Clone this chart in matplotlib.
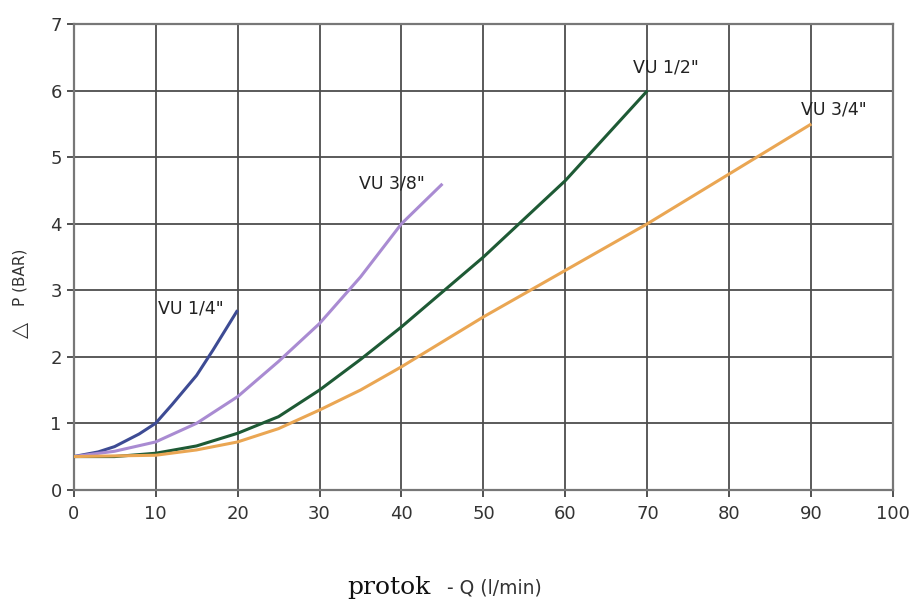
import matplotlib.pyplot as plt

# flow Q (l/min) and pressure drop (bar)
q_14 = [0, 3, 5, 8, 10, 12, 15, 17, 20]
p_14 = [0.5, 0.57, 0.65, 0.84, 1.0, 1.28, 1.72, 2.1, 2.7]

q_38 = [0, 5, 10, 15, 20, 25, 30, 35, 40, 45]
p_38 = [0.5, 0.58, 0.72, 1.0, 1.4, 1.93, 2.5, 3.2, 4.0, 4.6]

q_12 = [0, 5, 10, 15, 20, 25, 30, 35, 40, 50, 60, 70]
p_12 = [0.5, 0.5, 0.55, 0.66, 0.85, 1.1, 1.5, 1.96, 2.45, 3.5, 4.65, 6.0]

q_34 = [0, 10, 15, 20, 25, 30, 35, 40, 50, 60, 70, 80, 90]
p_34 = [0.5, 0.52, 0.6, 0.72, 0.92, 1.2, 1.5, 1.85, 2.6, 3.3, 4.0, 4.75, 5.5]

labels = ['VU 1/4"', 'VU 3/8"', 'VU 1/2"', 'VU 3/4"']
label_pos = [(14.3, 2.72), (38.8, 4.6), (72.2, 6.35), (92.8, 5.72)]
colors = ['#3d4b94', '#a98bd2', '#1e5a35', '#eaa653']

plt.rcParams['font.family'] = ['DejaVu Sans']

fig = plt.figure(figsize=(9.2, 6.04), dpi=100)
ax = fig.add_axes([0.080, 0.189, 0.891, 0.771])

for q, p, c in zip([q_14, q_38, q_12, q_34], [p_14, p_38, p_12, p_34], colors):
    ax.plot(q, p, color=c, lw=2.2, solid_capstyle='butt', solid_joinstyle='round', zorder=3)

for lab, (x, y) in zip(labels, label_pos):
    ax.text(x, y, lab, ha='center', va='center', fontsize=12.5, color='#222222', zorder=4)

ax.set_xlim(0, 100)
ax.set_ylim(0, 7)
ax.set_xticks(range(0, 101, 10))
ax.set_yticks(range(0, 8))
ax.grid(True, color='#4d4d4d', lw=1.3)
ax.set_axisbelow(True)
for s in ax.spines.values():
    s.set_color('#777777')
    s.set_linewidth(1.6)
ax.tick_params(colors='#333333', labelsize=13, length=5, width=1.2, direction='out')
ax.tick_params(axis='x', pad=6)

fig.text(0.022, 1 - 330 / 604, '\u25b3', rotation=90, ha='center', va='center', fontsize=15, color='#333333')
fig.text(0.022, 1 - 277 / 604, 'P (BAR)', rotation=90, ha='center', va='center', fontsize=11, color='#333333')

fig.text(347 / 920, 0.008, 'protok', ha='left', va='bottom', fontsize=18, family='DejaVu Serif', color='#111111')
fig.text(447 / 920, 0.01, '- Q (l/min)', ha='left', va='bottom', fontsize=13.5, color='#333333')

fig.savefig('out.png', dpi=100)
